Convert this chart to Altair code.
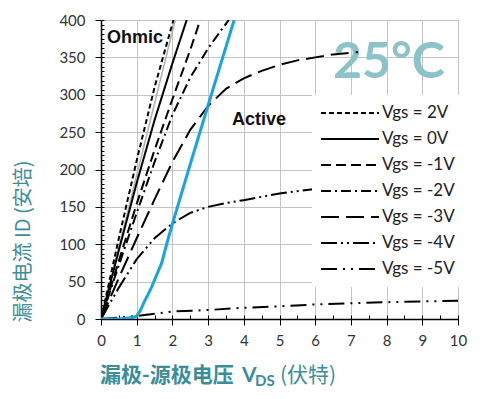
import altair as alt
import pandas as pd

# ---------------- data ----------------
series_names = ["Vgs = 2V", "Vgs = 0V", "Vgs = -1V", "Vgs = -2V",
                "Vgs = -3V", "Vgs = -4V", "Vgs = -5V"]

vds_p2 = [0, 0.5, 1, 1.5, 2.03]
id_p2 = [0, 108, 212, 310, 400]

vds_0 = [0, 0.5, 1, 1.5, 2, 2.4]
id_0 = [0, 92, 182, 266, 342, 400]

vds_m1 = [0, 0.5, 1, 1.5, 2, 2.5, 2.78]
id_m1 = [0, 78, 154, 226, 294, 360, 400]

vds_m2 = [0, 0.5, 1, 1.5, 2, 2.5, 3, 3.36, 3.58]
id_m2 = [0, 72, 142, 210, 273, 323, 362, 386, 400]

vds_m3 = [0, 0.5, 1, 1.5, 2, 2.5, 3, 3.5, 4, 4.5, 5, 5.5, 6, 6.5, 7.2]
id_m3 = [0, 55, 108, 160, 210, 253, 285, 308, 322, 332, 340, 346, 350, 354, 357]

vds_m4 = [0, 0.5, 1, 1.5, 2, 2.5, 3, 3.5, 4, 5, 6, 7, 8, 9, 10]
id_m4 = [0, 42, 80, 108, 128, 142, 150, 155, 159, 168, 174, 177, 179, 181, 182]

vds_m5 = [0, 0.5, 1, 1.5, 2, 3, 4, 5, 6, 7, 8, 9, 10]
id_m5 = [0, 2, 4, 7, 10, 12, 15, 17, 19.5, 21, 22.5, 23.5, 24.5]

# boundary between ohmic and active region (blue)
vds_blue = [0, 0.5, 0.9, 1.0, 1.1, 1.2, 1.3, 1.42, 1.55, 1.7, 1.85, 2.03, 2.5, 3.0, 3.5, 3.73]
id_blue = [0, 0, 2, 4, 11, 22, 31, 43, 58, 75, 102, 132, 207, 286, 364, 400]

# light grey reference line in ohmic region
vds_grey = [0, 2.08]
id_grey = [0, 400]

x_ticks = list(range(0, 11))
y_ticks = list(range(0, 401, 50))
x_minor = [i * 0.5 for i in range(0, 21)]
y_minor = [i * 6.25 for i in range(0, 65)]

dash_patterns = [[5, 3], [1, 0], [10, 5], [10, 4, 2, 4], [18, 7],
                 [16, 4, 2, 4, 2, 4], [16, 6, 2, 6, 2, 6]]

rows = []
for name, xs, ys in zip(series_names,
                        [vds_p2, vds_0, vds_m1, vds_m2, vds_m3, vds_m4, vds_m5],
                        [id_p2, id_0, id_m1, id_m2, id_m3, id_m4, id_m5]):
    for k, (xv, yv) in enumerate(zip(xs, ys)):
        rows.append({"series": name, "vds": xv, "id": yv, "k": k})
df = pd.DataFrame(rows)
blue_df = pd.DataFrame({"vds": vds_blue, "id": id_blue})
grey_df = pd.DataFrame({"vds": vds_grey, "id": id_grey})

TEAL = "#3b8e98"
LIGHT_TEAL = "#8cc3c8"
BLUE = "#19a4dc"

x_scale = alt.Scale(domain=[0, 10], nice=False)
y_scale = alt.Scale(domain=[0, 400], nice=False)

x_axis = alt.Axis(values=x_ticks, title=None, labelFont="Lato", labelFontSize=15,
                  labelColor="#333333", tickSize=6, tickColor="black", domainColor="black",
                  domainWidth=1.5, gridColor="#c4c4c4", gridWidth=1, labelPadding=8,
                  labelFlush=False)
y_axis = alt.Axis(values=y_ticks, title="漏极电流 ID (安培)", labelFont="Lato",
                  labelFontSize=15, labelColor="#333333", tickSize=6, tickColor="black",
                  domainColor="black", domainWidth=1.5, gridColor="#c4c4c4", gridWidth=1,
                  labelPadding=10, titleFont="Noto Sans CJK SC", titleFontSize=20,
                  titleFontWeight="normal", titleColor=TEAL, titleAngle=270,
                  titleAlign="center", titleBaseline="middle", titleX=-78, titleY=221)

X = alt.X("vds:Q", scale=x_scale, axis=x_axis)
Y = alt.Y("id:Q", scale=y_scale, axis=y_axis)

curves = alt.Chart(df).mark_line(color="black", strokeWidth=2, clip=True).encode(
    x=X, y=Y,
    strokeDash=alt.StrokeDash(
        "series:N",
        scale=alt.Scale(domain=series_names, range=dash_patterns),
        legend=alt.Legend(title=None, orient="none", legendX=211, legendY=75,
                          fillColor="white", padding=8, symbolType="stroke",
                          symbolSize=3364, symbolStrokeWidth=2,
                          symbolStrokeColor="black", labelFont="Lato",
                          labelFontSize=17, labelColor="#222222", clipHeight=20,
                          rowPadding=6, labelOffset=2)),
    order="k:Q",
)

grey = alt.Chart(grey_df).mark_line(color="#b0b0b0", strokeWidth=1.5, clip=True).encode(x=X, y=Y)
blue = alt.Chart(blue_df).mark_line(color=BLUE, strokeWidth=3, clip=True).encode(x=X, y=Y)


def label(text, x, y, **kw):
    return alt.Chart(pd.DataFrame({"t": [text]})).mark_text(
        align="left", baseline="alphabetic", **kw
    ).encode(x=alt.value(x), y=alt.value(y), text="t:N")


t25 = label("25°C", 232, 58, font="Lato", fontSize=50, fontWeight="bold", color=LIGHT_TEAL)
ohmic = label("Ohmic", 6, 23, font="Liberation Sans", fontSize=18, fontWeight="bold", color="#111111")
active = label("Active", 131, 105, font="Liberation Sans", fontSize=18, fontWeight="bold", color="#111111")
xt1 = label("漏极-源极电压", -1, 362, font="Noto Sans CJK SC", fontSize=21, fontWeight="bold", color=TEAL)
xt2 = label("V", 141, 362, font="Lato", fontSize=21, fontWeight="bold", color=TEAL)
xt3 = label("DS", 154, 366, font="Lato", fontSize=15, fontWeight="bold", color=TEAL)
xt4 = label("(伏特)", 179, 362, font="Noto Sans CJK SC", fontSize=21, fontWeight="normal", color=TEAL)

main = alt.layer(t25, grey, curves, blue, ohmic, active, xt1, xt2, xt3, xt4)

minor = alt.Chart(blue_df).mark_point(opacity=0).encode(
    x=alt.X("vds:Q", scale=x_scale,
            axis=alt.Axis(values=x_minor, labels=False, domain=False, grid=False,
                          tickSize=4, offset=-4, title=None, orient="bottom",
                          tickColor="black")),
    y=alt.Y("id:Q", scale=y_scale,
            axis=alt.Axis(values=y_minor, labels=False, domain=False, grid=False,
                          tickSize=3, offset=-3, title=None, orient="left",
                          tickColor="black")),
)

chart = alt.layer(main, minor).resolve_axis(x="independent", y="independent").properties(
    width=357, height=299,
    padding={"left": 93, "top": 12, "right": 14, "bottom": 72},
    autosize=alt.AutoSizeParams(type="none"),
).configure_view(stroke="black", strokeWidth=1.5).configure(background="white")

chart.save("out.html", embed_options={"renderer": "svg", "actions": False})
